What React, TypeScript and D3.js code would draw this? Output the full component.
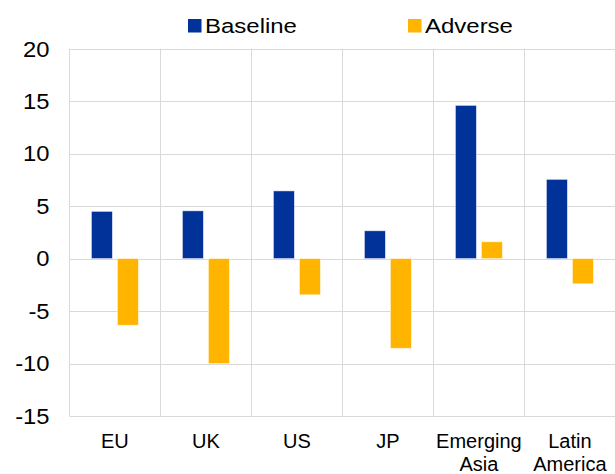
import React from "react";
import * as d3 from "d3";

const categories: string[][] = [["EU"], ["UK"], ["US"], ["JP"], ["Emerging", "Asia"], ["Latin", "America"]];
const seriesNames = ["Baseline", "Adverse"];
const baseline = [4.5, 4.55, 6.45, 2.65, 14.6, 7.55];
const adverse = [-6.35, -10.0, -3.45, -8.55, 1.6, -2.4];
const yTicks = [-15, -10, -5, 0, 5, 10, 15, 20];
const colors = ["#003299", "#FFB400"];

const W = 615;
const H = 474;
const FONT = "'Liberation Sans', Arial, sans-serif";

export default function App() {
  const keys = categories.map((c) => c.join(" "));
  const x0 = d3.scaleBand<string>().domain(keys).range([69.4, 615.4]).paddingInner(0).paddingOuter(0);
  const groupW = 47;
  const x1 = d3.scaleBand<string>().domain(seriesNames).range([0, groupW]).paddingInner(0.1923).paddingOuter(0);
  const y = d3.scaleLinear().domain([-15, 20]).range([416, 48.7]);
  const series = [baseline, adverse];

  return (
    <div style={{ position: "fixed", left: 0, top: 0, width: W, height: H, overflow: "hidden" }}>
      <svg width={W} height={H} style={{ display: "block", background: "#fff" }} fontFamily={FONT}>
        {/* horizontal gridlines */}
        {yTicks.map((t) => (
          <line key={"h" + t} x1={69.4} x2={615} y1={Math.round(y(t)) + 0.5} y2={Math.round(y(t)) + 0.5} stroke="#d9d9d9" strokeWidth={1} />
        ))}
        {/* vertical gridlines */}
        {keys.map((k) => (
          <line key={"v" + k} x1={Math.round(x0(k)!) + 0.5} x2={Math.round(x0(k)!) + 0.5} y1={y(20)} y2={y(-15)} stroke="#d9d9d9" strokeWidth={1} />
        ))}
        {/* bars */}
        {series.map((vals, si) =>
          vals.map((v, i) => {
            const k = keys[i];
            const bx = x0(k)! + (x0.bandwidth() - groupW) / 2 + x1(seriesNames[si])!;
            const top = y(Math.max(0, v));
            const bot = y(Math.min(0, v));
            return (
              <rect key={si + "-" + i} x={bx} y={top} width={x1.bandwidth()} height={bot - top} fill={colors[si]} stroke="#ffffff" strokeOpacity={0.6} strokeWidth={0.8} />
            );
          })
        )}
        {/* y tick labels */}
        {yTicks.map((t) => (
          <text key={"t" + t} transform={`translate(49.5,${y(t) + 7.8}) scale(1.08,1)`} textAnchor="end" fontSize={22} fill="#000">
            {t}
          </text>
        ))}
        {/* x labels */}
        {categories.map((lines, i) => {
          const cx = x0(keys[i])! + x0.bandwidth() / 2;
          return lines.map((ln, j) => (
            <text key={"x" + i + j} x={cx} y={448 + j * 23} textAnchor="middle" fontSize={20} fill="#000">
              {ln}
            </text>
          ));
        })}
        {/* legend */}
        {seriesNames.map((s, i) => {
          const lx = i === 0 ? 188 : 408;
          return (
            <g key={"l" + s}>
              <rect x={lx} y={19} width={13.5} height={13.5} fill={colors[i]} />
              <text transform={`translate(${lx + 17},33) scale(1.17,1)`} fontSize={20.5} fill="#000">
                {s}
              </text>
            </g>
          );
        })}
      </svg>
    </div>
  );
}
